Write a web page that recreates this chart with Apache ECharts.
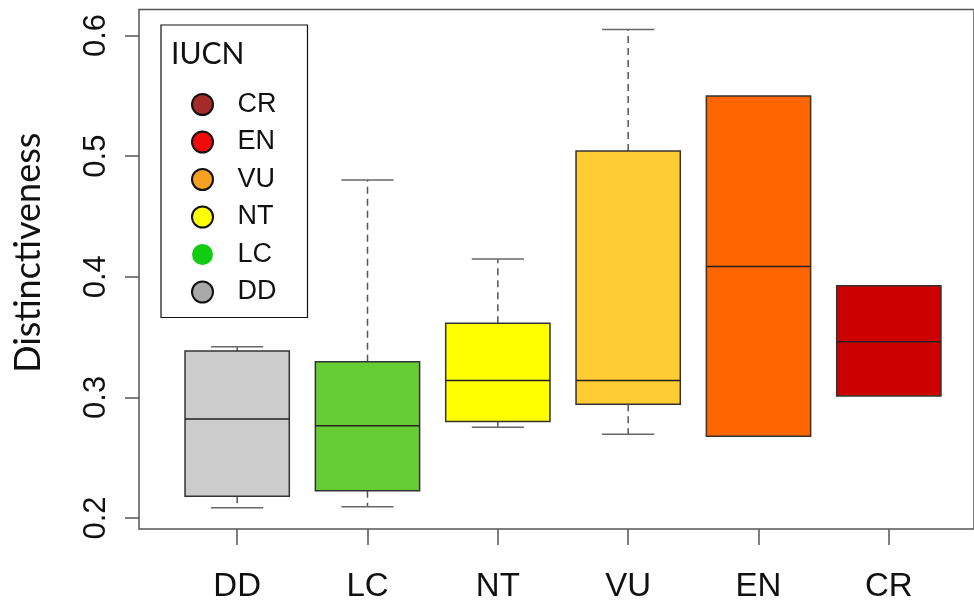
<!DOCTYPE html>
<html>
<head>
<meta charset="utf-8">
<script src="https://cdn.jsdelivr.net/npm/echarts@6/dist/echarts.min.js"></script>
<style>html,body{margin:0;padding:0;background:#fff}#c{width:974px;height:608px}</style>
</head>
<body>
<div id="c"></div>
<script>
// ---- data ----
const categories = ['DD', 'LC', 'NT', 'VU', 'EN', 'CR'];
const lowerWhisker = [0.2085, 0.2094, 0.2752, 0.2694, 0.2677, 0.3012];
const q1Values     = [0.2180, 0.2226, 0.2799, 0.2943, 0.2677, 0.3012];
const medianValues = [0.2820, 0.2765, 0.3139, 0.3139, 0.4084, 0.3462];
const q3Values     = [0.3385, 0.3296, 0.3614, 0.5043, 0.5499, 0.3926];
const upperWhisker = [0.3420, 0.4803, 0.4148, 0.6049, 0.5499, 0.3926];
const boxColors = ['#CCCCCC', '#66CC33', '#FFFF00', '#FFCC33', '#FF6600', '#CC0000'];
const yTicks = [0.2, 0.3, 0.4, 0.5, 0.6];
const legendTitle = 'IUCN';
const legendNames = ['CR', 'EN', 'VU', 'NT', 'LC', 'DD'];
const legendColors = ['#A52A2A', '#F00A0A', '#F5A020', '#FFFF00', '#11CC11', '#A9A9A9'];
const legendBorder = [true, true, true, true, false, true];

const boxData = categories.map((c, i) => [i, lowerWhisker[i], q1Values[i], medianValues[i], q3Values[i], upperWhisker[i]]);

function renderBox(params, api) {
  const x = api.value(0);
  const lo = api.coord([x, api.value(1)]);
  const q1 = api.coord([x, api.value(2)]);
  const med = api.coord([x, api.value(3)]);
  const q3 = api.coord([x, api.value(4)]);
  const hi = api.coord([x, api.value(5)]);
  const bw = api.size([1, 0])[0];
  const half = bw * 0.4;
  const sHalf = bw * 0.2;
  const cx = q1[0];
  const children = [];
  const wStyle = { stroke: '#555', lineWidth: 1.5, lineDash: [7, 5] };
  const sStyle = { stroke: '#666', lineWidth: 1.5 };
  if (hi[1] < q3[1] - 0.5) {
    children.push({ type: 'line', shape: { x1: cx, y1: q3[1], x2: cx, y2: hi[1] }, style: wStyle });
    children.push({ type: 'line', shape: { x1: cx - sHalf, y1: hi[1], x2: cx + sHalf, y2: hi[1] }, style: sStyle });
  }
  if (lo[1] > q1[1] + 0.5) {
    children.push({ type: 'line', shape: { x1: cx, y1: q1[1], x2: cx, y2: lo[1] }, style: wStyle });
    children.push({ type: 'line', shape: { x1: cx - sHalf, y1: lo[1], x2: cx + sHalf, y2: lo[1] }, style: sStyle });
  }
  children.push({ type: 'rect', shape: { x: cx - half, y: q3[1], width: half * 2, height: q1[1] - q3[1] },
    style: { fill: boxColors[params.dataIndex], stroke: '#333', lineWidth: 1.5 } });
  children.push({ type: 'line', shape: { x1: cx - half, y1: med[1], x2: cx + half, y2: med[1] },
    style: { stroke: '#222', lineWidth: 1.5 } });
  return { type: 'group', children };
}

const legendSeries = legendNames.map((n, i) => ({
  name: n, type: 'scatter', xAxisIndex: 1, yAxisIndex: 1, data: [],
  itemStyle: { color: legendColors[i], opacity: 1, borderColor: '#111', borderWidth: legendBorder[i] ? 1.5 : 0 }
}));

const chart = echarts.init(document.getElementById('c'), null, { renderer: 'canvas' });
chart.setOption({
  animation: false,
  backgroundColor: '#fff',
  title: {
    text: legendTitle, left: 171, top: 36, padding: 0,
    textStyle: { fontFamily: 'Lato', fontWeight: 'normal', fontSize: 30, color: '#111', lineHeight: 36 }
  },
  legend: {
    orient: 'vertical', left: 161, top: 25,
    data: legendNames,
    icon: 'circle', itemWidth: 60, itemHeight: 21, itemGap: 10.5,
    padding: [66, 31, 12, 30],
    borderColor: '#111', borderWidth: 1.2,
    selectedMode: false,
    itemStyle: { opacity: 1 },
    textStyle: { fontFamily: 'Liberation Sans', fontSize: 27, color: '#111' }
  },
  grid: [
    { left: 172, top: 35.5, width: 782, height: 482.5 },
    { left: 139, top: 9.5, width: 870, height: 519.5, show: true, borderColor: '#555', borderWidth: 1.5, backgroundColor: 'transparent' }
  ],
  xAxis: [
    {
      type: 'category', data: categories, gridIndex: 0, offset: 11,
      axisLine: { show: true, lineStyle: { color: '#555', opacity: 0 } },
      axisTick: { show: true, alignWithLabel: true, length: 16, lineStyle: { color: '#555', width: 1.5, opacity: 1 } },
      axisLabel: { fontFamily: 'Liberation Sans', fontSize: 33, color: '#111', margin: 41 }
    },
    { type: 'value', gridIndex: 1, show: false, min: 0, max: 1 }
  ],
  yAxis: [
    {
      type: 'value', gridIndex: 0, min: yTicks[0], max: yTicks[yTicks.length - 1], interval: 0.1, offset: 33,
      axisLine: { show: true, lineStyle: { color: '#555', opacity: 0 } },
      splitLine: { show: false },
      axisTick: { show: true, length: 14, lineStyle: { color: '#555', width: 1.5, opacity: 1 } },
      axisLabel: { rotate: 90, fontFamily: 'Liberation Sans', fontSize: 31, color: '#111', margin: 27,
        formatter: v => v.toFixed(1) },
      name: 'Distinctiveness', nameLocation: 'middle', nameRotate: 90, nameGap: 93,
      nameTextStyle: { fontFamily: 'Lato', fontSize: 36, color: '#111', padding: [0, 0, 0, 48] }
    },
    { type: 'value', gridIndex: 1, show: false, min: 0, max: 1 }
  ],
  series: [
    {
      type: 'custom', xAxisIndex: 0, yAxisIndex: 0,
      renderItem: renderBox, data: boxData,
      encode: { x: 0, y: [1, 2, 3, 4, 5] }, z: 3
    },
    ...legendSeries
  ]
});
</script>
</body>
</html>
